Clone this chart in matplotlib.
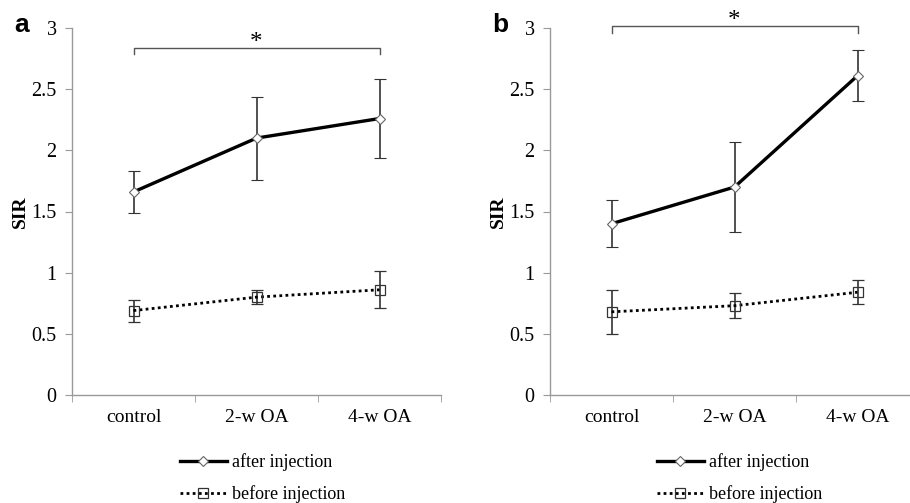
import numpy as np
import matplotlib.pyplot as plt
from matplotlib.lines import Line2D

categories = ["control", "2-w OA", "4-w OA"]

# panel a
a_after = [1.66, 2.10, 2.26]
a_after_err = [0.17, 0.34, 0.32]
a_before = [0.69, 0.80, 0.86]
a_before_err = [0.09, 0.06, 0.15]

# panel b
b_after = [1.40, 1.70, 2.61]
b_after_err = [0.19, 0.37, 0.21]
b_before = [0.68, 0.73, 0.84]
b_before_err = [0.18, 0.10, 0.10]

yticks = [0, 0.5, 1, 1.5, 2, 2.5, 3]
ytick_labels = ["0", "0.5", "1", "1.5", "2", "2.5", "3"]

plt.rcParams['font.family'] = ['Liberation Serif', 'DejaVu Serif']

W, H = 910, 503
fig = plt.figure(figsize=(W / 100, H / 100), dpi=100)

panels = [
    ("a", 72, a_after, a_after_err, a_before, a_before_err, 2.84, 2.79, 180),
    ("b", 550, b_after, b_after_err, b_before, b_before_err, 3.017, 2.96, 657),
]

for letter, x0, after, after_err, before, before_err, br_y, br_low, leg_x in panels:
    ax = fig.add_axes([x0 / W, 1 - 395 / H, 369 / W, 367 / H])
    x = np.arange(len(categories))

    ax.errorbar(x, after, yerr=after_err, color='black', lw=2.4, marker='D',
                ms=5, mfc='white', mec='#666666', mew=0.8,
                ecolor='#333333', elinewidth=1.2, capsize=4, capthick=1.2, zorder=3)
    ax.errorbar(x, before, yerr=before_err, color='black', lw=2.0, ls=(0, (1, 1.2)),
                marker='s', ms=7, mfc='none', mec='#333333', mew=0.9,
                ecolor='#333333', elinewidth=1.2, capsize=4, capthick=1.2, zorder=3)

    ax.set_xlim(-0.5, 2.5)
    ax.set_ylim(0, 3)
    ax.set_yticks(yticks)
    ax.set_yticklabels(ytick_labels, fontsize=14.5)
    ax.set_xticks(x)
    ax.set_xticklabels(categories, fontsize=14)
    ax.set_xticks([-0.5, 0.5, 1.5, 2.5], minor=True)
    ax.tick_params(axis='x', which='major', length=0, pad=10)
    ax.tick_params(axis='x', which='minor', length=5, color='#999999', direction='out')
    ax.tick_params(axis='y', length=5, color='#999999', direction='out', pad=6)
    for s in ['top', 'right']:
        ax.spines[s].set_visible(False)
    for s in ['left', 'bottom']:
        ax.spines[s].set_color('#999999')
        ax.spines[s].set_linewidth(1.0)

    ax.set_ylabel("SIR", fontsize=14, fontweight='bold', labelpad=2)

    # significance bracket
    ax.plot([0, 0, 2, 2], [br_low, br_y, br_y, br_low], color='#555555', lw=1.0, clip_on=False)
    ax.text(1, br_y - 0.01, "*", ha='center', va='baseline', fontsize=18, clip_on=False)

    fig.text((x0 - 58) / W, 1 - 25 / H, letter, fontsize=19, fontweight='bold',
             family=['Liberation Sans', 'DejaVu Sans'], ha='left', va='center')

    handles = [
        Line2D([], [], color='black', lw=2.4, marker='D', ms=5, mfc='white',
               mec='#666666', mew=0.8),
        Line2D([], [], color='black', lw=2.0, ls=(0, (1, 1.2)), marker='s', ms=7,
               mfc='none', mec='#333333', mew=0.9),
    ]
    fig.legend(handles, ["after injection", "before injection"],
               loc='upper left', bbox_to_anchor=(leg_x / W, 1 - 453 / H),
               frameon=False, fontsize=13, handlelength=2.6, handletextpad=0.3,
               labelspacing=0.78, borderaxespad=0, borderpad=0)

fig.savefig("out.png", dpi=100)
